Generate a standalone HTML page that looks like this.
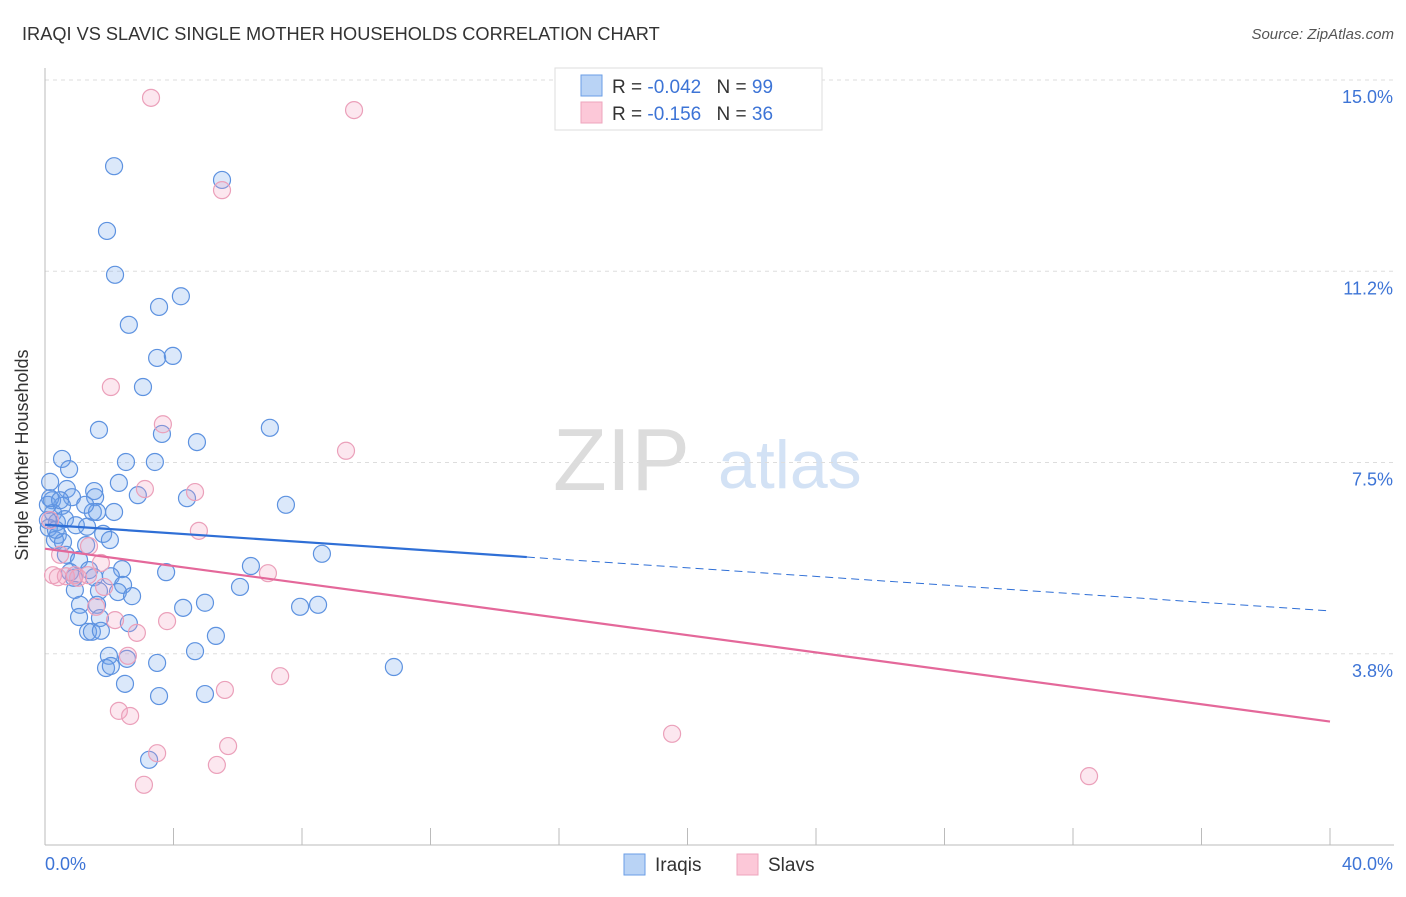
<!DOCTYPE html>
<html><head><meta charset="utf-8"><style>
body{margin:0;background:#fff;font-family:"Liberation Sans",sans-serif}
svg text{font-family:"Liberation Sans",sans-serif}
</style></head><body>
<svg id="chart" width="1406" height="892" viewBox="0 0 1406 892" xmlns="http://www.w3.org/2000/svg">
<text x="22" y="40" font-size="18.2" fill="#333">IRAQI VS SLAVIC SINGLE MOTHER HOUSEHOLDS CORRELATION CHART</text>
<text x="1394" y="39" font-size="15" fill="#555" text-anchor="end" font-style="italic">Source: ZipAtlas.com</text>
<g>
<text x="553" y="490" font-size="88" fill="#dcdcdc" font-family="Liberation Serif,serif">ZIP</text>
<text x="718" y="488" font-size="68" fill="#d3e2f5">atlas</text>
</g>
<g id="grid"></g>
<g id="axes"></g>
<g id="marks"></g>
<g id="trends"></g>
<text x="28" y="455" font-size="18" fill="#333" transform="rotate(-90 28 455)" text-anchor="middle">Single Mother Households</text>
<g>
<rect x="555" y="68" width="267" height="62" fill="#fff" stroke="#ddd"/>
<rect x="581" y="75" width="21" height="21" fill="#b9d3f5" stroke="#6a9ee6"/>
<rect x="581" y="102" width="21" height="21" fill="#fcc8d8" stroke="#eea5bd"/>
<text x="612" y="93" font-size="19" fill="#333">R = <tspan fill="#3d74d6">-0.042</tspan>  <tspan dx="10">N = </tspan><tspan fill="#3d74d6">99</tspan></text>
<text x="612" y="120" font-size="19" fill="#333">R =  <tspan fill="#3d74d6">-0.156</tspan>  <tspan dx="10">N = </tspan><tspan fill="#3d74d6">36</tspan></text>
</g>
<g>
<rect x="624" y="854" width="21" height="21" fill="#b9d3f5" stroke="#6a9ee6"/>
<text x="655" y="871" font-size="19" fill="#333">Iraqis</text>
<rect x="737" y="854" width="21" height="21" fill="#fcc8d8" stroke="#eea5bd"/>
<text x="768" y="871" font-size="19" fill="#333">Slavs</text>
</g>
</svg>
<script>
const yTicks=[15.0,11.25,7.5,3.75];
const yTickLabels=["15.0%","11.2%","7.5%","3.8%"];
const xTickCount=10;
const xLabels=["0.0%","40.0%"];
const iraqiX=[2.15,5.51,1.93,2.18,4.23,3.55,2.61,3.49,3.98,3.05,1.68,3.64,4.73,7.00,0.53,2.52,3.42,0.75,2.30,0.16,0.68,1.53,0.84,1.56,2.89,4.42,7.50,0.22,0.53,1.49,2.15,1.62,0.25,0.37,0.62,0.96,1.31,0.12,0.40,1.81,0.31,0.56,1.28,8.62,0.65,1.06,6.41,0.78,1.37,2.40,3.77,0.90,1.53,2.05,2.43,6.07,0.93,1.68,2.27,2.71,4.98,4.30,7.94,8.50,1.62,1.09,1.06,1.71,2.61,1.34,1.46,1.74,5.32,4.67,1.99,3.49,1.90,2.05,2.55,10.86,2.49,3.55,4.98,3.24,0.09,0.16,0.09,0.34,0.47,1.25,2.02];
const iraqiY=[13.31,13.04,12.04,11.18,10.76,10.55,10.20,9.55,9.59,8.98,8.14,8.06,7.90,8.18,7.57,7.51,7.51,7.37,7.10,7.12,6.98,6.94,6.82,6.82,6.86,6.80,6.67,6.76,6.65,6.53,6.53,6.53,6.51,6.33,6.39,6.27,6.24,6.22,6.08,6.10,5.98,5.94,5.88,5.71,5.69,5.59,5.47,5.35,5.39,5.41,5.35,5.24,5.25,5.27,5.10,5.06,5.00,4.98,4.96,4.88,4.75,4.65,4.67,4.71,4.71,4.71,4.47,4.45,4.35,4.18,4.18,4.20,4.10,3.80,3.71,3.57,3.47,3.51,3.65,3.49,3.16,2.92,2.96,1.67,6.67,6.80,6.37,6.18,6.76,6.67,5.98];
const slavX=[3.30,9.62,5.51,2.05,3.67,9.37,3.11,4.67,4.79,1.37,1.74,6.94,0.25,0.40,0.65,1.03,1.34,1.84,1.59,2.18,2.86,3.80,2.58,7.32,5.60,2.30,2.65,3.49,5.70,5.35,3.08,19.52,32.50,0.16,0.47,0.93];
const slavY=[14.65,14.41,12.84,8.98,8.25,7.73,6.98,6.92,6.16,5.86,5.53,5.33,5.29,5.25,5.27,5.24,5.29,5.06,4.67,4.41,4.16,4.39,3.71,3.31,3.04,2.63,2.53,1.80,1.94,1.57,1.18,2.18,1.35,6.37,5.69,5.29];
const iraqiTrend=[6.28,4.59];
const slavTrend=[5.81,2.42];
const iraqiSolidEnd=15;

const X0=45,X1=1330,XMAX=40,YTOP=80,YMAX=15,PXPER=51;
const sx=v=>X0+(v/XMAX)*(X1-X0);
const sy=v=>YTOP+(YMAX-v)*PXPER;
const NS="http://www.w3.org/2000/svg";
function mk(tag,attrs,parent){const e=document.createElementNS(NS,tag);for(const k in attrs)e.setAttribute(k,attrs[k]);parent.appendChild(e);return e;}
const grid=document.getElementById('grid'),axes=document.getElementById('axes'),marks=document.getElementById('marks'),trends=document.getElementById('trends');
yTicks.forEach((t,i)=>{
 const l=mk('line',{x1:X0,x2:1394,y1:sy(t),y2:sy(t),stroke:'#ddd','stroke-dasharray':'4,4'},grid);
 
 
 const tx=mk('text',{x:1393,y:sy(t)+23,'font-size':18,fill:'#3d74d6','text-anchor':'end'},axes);
 tx.textContent=yTickLabels[i];
 
 
});
const la=mk('line',{x1:X0,x2:X0,y1:68,y2:845,stroke:'#bbb'},axes);


const ba=mk('line',{x1:X0,x2:1394,y1:845,y2:845,stroke:'#bbb'},axes);


for(let i=0;i<=xTickCount;i++){
 const x=sx(i*XMAX/xTickCount);
 const t=mk('line',{x1:x,x2:x,y1:828,y2:845,stroke:'#bbb'},axes);
 
 
}
const xl0=mk('text',{x:45,y:870,'font-size':18,fill:'#3d74d6'},axes);xl0.textContent=xLabels[0];


const xl1=mk('text',{x:1393,y:870,'font-size':18,fill:'#3d74d6','text-anchor':'end'},axes);xl1.textContent=xLabels[1];


function pts(xs,ys,fill,stroke,name){xs.forEach((v,i)=>{
 const c=mk('circle',{cx:sx(v),cy:sy(ys[i]),r:8.5,fill:fill,stroke:stroke,'stroke-width':1.2},marks);
 
 
});}
pts(iraqiX,iraqiY,'rgba(110,165,235,0.25)','#5d92e0','iraqi-point');
pts(slavX,slavY,'rgba(245,160,190,0.25)','#eba0ba','slav-point');
const bAt=v=>iraqiTrend[0]+(iraqiTrend[1]-iraqiTrend[0])*v/XMAX;
const l1=mk('line',{x1:sx(0),y1:sy(iraqiTrend[0]),x2:sx(iraqiSolidEnd),y2:sy(bAt(iraqiSolidEnd)),stroke:'#2f6fd6','stroke-width':2.2},trends);


const l2=mk('line',{x1:sx(iraqiSolidEnd),y1:sy(bAt(iraqiSolidEnd)),x2:sx(XMAX),y2:sy(iraqiTrend[1]),stroke:'#2f6fd6','stroke-width':1,'stroke-dasharray':'8,5'},trends);


const l3=mk('line',{x1:sx(0),y1:sy(slavTrend[0]),x2:sx(XMAX),y2:sy(slavTrend[1]),stroke:'#e4689a','stroke-width':2.2},trends);


</script>
</body></html>
